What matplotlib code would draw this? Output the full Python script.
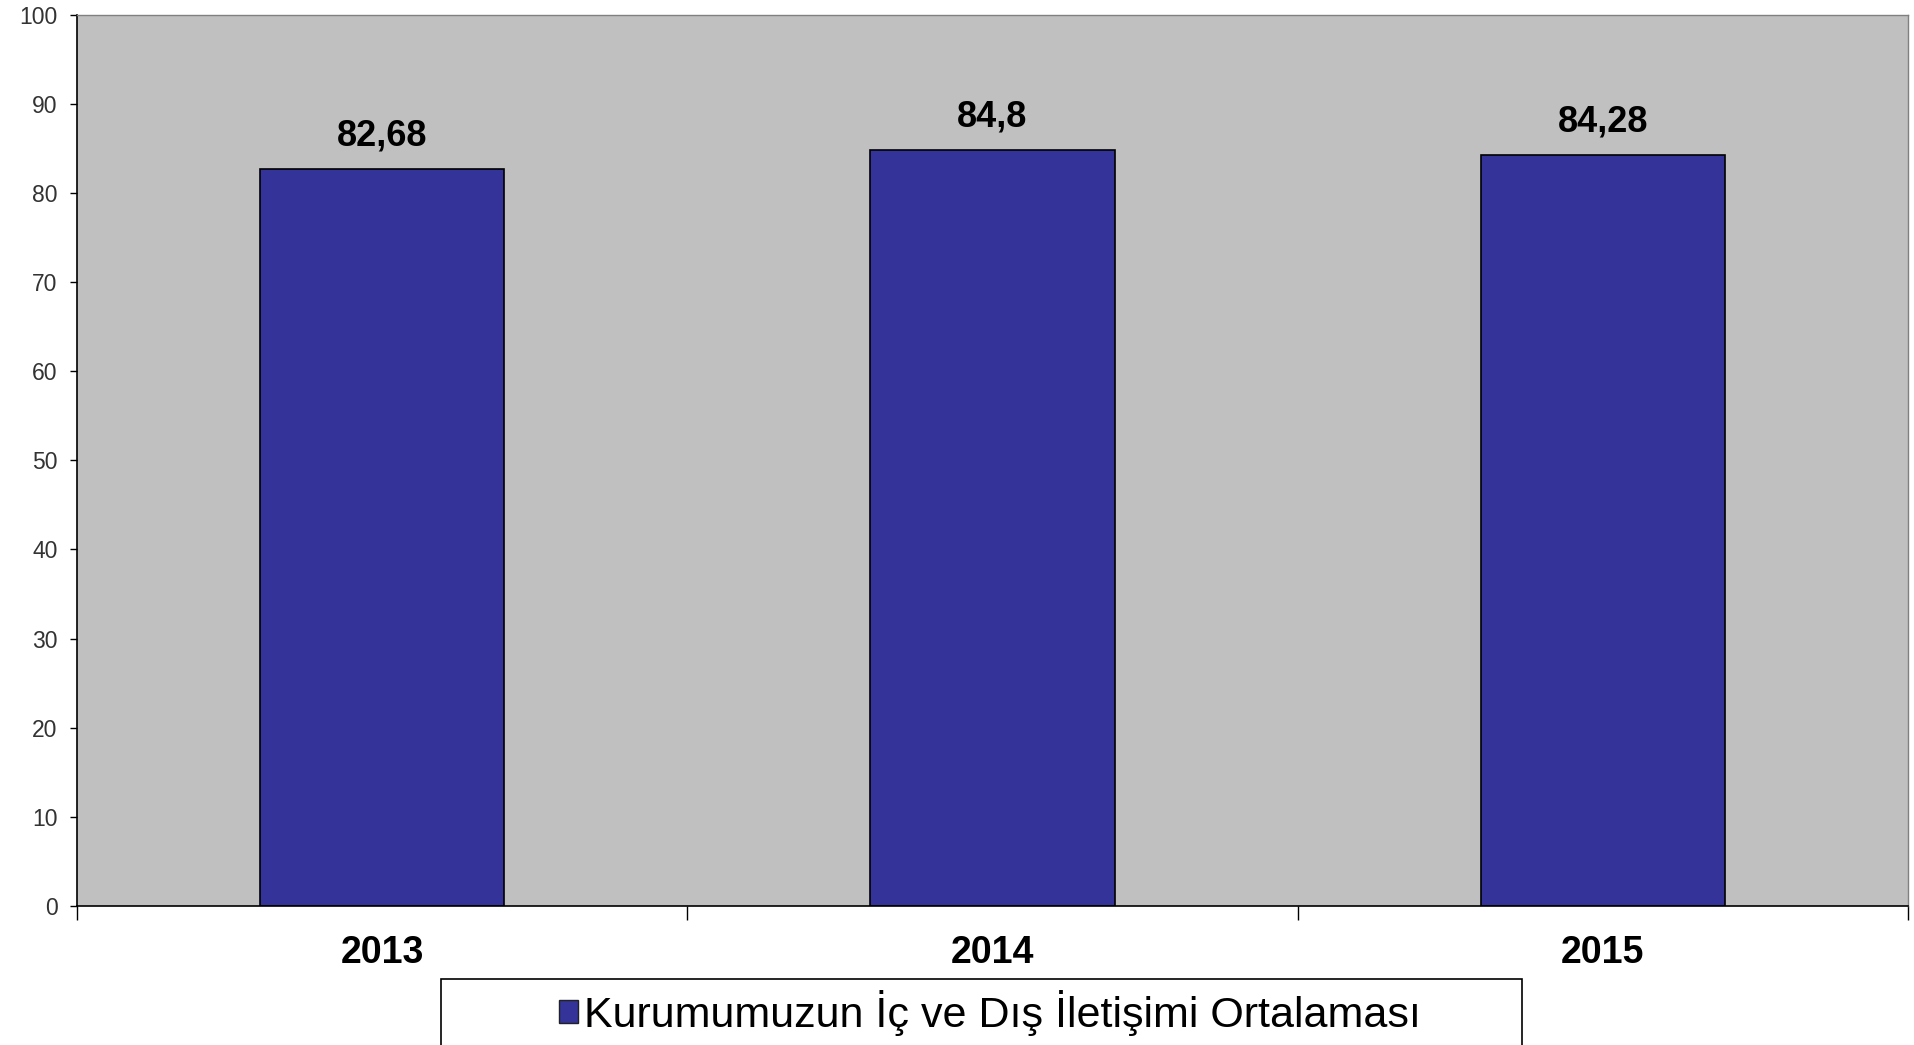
import matplotlib.pyplot as plt
from matplotlib.patches import Patch, Rectangle

yillar = ["2013", "2014", "2015"]
ortalama = [82.68, 84.8, 84.28]
etiketler = ["82,68", "84,8", "84,28"]
seri_adi = "Kurumumuzun İç ve Dış İletişimi Ortalaması"

plt.rcParams['font.family'] = ['Liberation Sans', 'DejaVu Sans']

fig = plt.figure(figsize=(19.14, 10.45), dpi=100)
ax = fig.add_axes([77/1914, 1 - 906/1045, (1908 - 77)/1914, (906 - 14.6)/1045])
ax.set_facecolor('#C0C0C0')

x = list(range(len(yillar)))
bars = ax.bar(x, ortalama, width=0.4, color='#333399', edgecolor='black', linewidth=1.2)

# degerleri cubuklarin ustune yaz
for xi, v, lab in zip(x, ortalama, etiketler):
    ax.annotate(lab, (xi, v), xytext=(0, 11), textcoords='offset points',
                ha='center', va='bottom', fontsize=26, fontweight='bold', color='black')

ax.set_xlim(-0.5, 2.5)
ax.set_ylim(0, 100)
ax.set_yticks(range(0, 101, 10))
ax.tick_params(axis='y', length=5, width=1, pad=9, labelsize=16.5, labelcolor='#333333', direction='out')

# x ekseni: cizgiler kategori sinirlarinda, etiketler ortada
ax.set_xticks([-0.5, 0.5, 1.5, 2.5])
ax.set_xticklabels([])
ax.tick_params(axis='x', which='major', length=10, width=1, direction='out')
ax.set_xticks(x, minor=True)
ax.set_xticklabels(yillar, minor=True, fontsize=27, fontweight='bold')
ax.tick_params(axis='x', which='minor', length=0, pad=21)

for s in ['top', 'right']:
    ax.spines[s].set_color('#808080')
    ax.spines[s].set_linewidth(1)
for s in ['left', 'bottom']:
    ax.spines[s].set_color('black')
    ax.spines[s].set_linewidth(1.2)

# lejant kutusu (alt kenari resmin disinda kaliyor)
kutu = Rectangle((441/1914, -0.05), (1522 - 441)/1914, 1 - 979/1045 + 0.05,
                 transform=fig.transFigure, facecolor='white', edgecolor='black', linewidth=1.2)
fig.patches.append(kutu)

handle = Patch(facecolor='#333399', edgecolor='#222222', label=seri_adi)
leg = fig.legend(handles=[handle], loc='center', bbox_to_anchor=(990/1914, 1 - 1013/1045),
                 frameon=False, fontsize=31, handlelength=0.45, handleheight=0.45,
                 handletextpad=0.15, borderpad=0, borderaxespad=0)

fig.savefig('out.png', dpi=100)
